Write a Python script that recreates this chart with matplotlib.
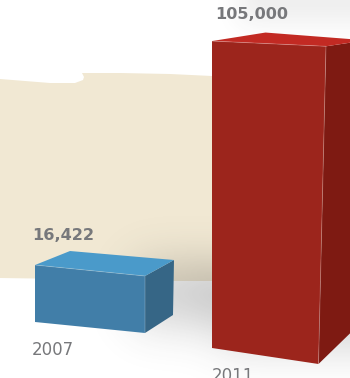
import numpy as np
import matplotlib
matplotlib.use("Agg")
import matplotlib.pyplot as plt
from matplotlib.patches import Polygon
from matplotlib.path import Path

years = ["2007", "2011"]
values = [16422, 105000]
value_labels = ["16,422", "105,000"]

# colours per box: front, top, side
front_colors = ["#417ea8", "#9c251c"]
top_colors = ["#4a9aca", "#c22a23"]
side_colors = ["#366686", "#7e1a12"]
TEXT = "#77787b"
BEIGE = "#f1e8d3"

# box geometry in pixels
base_left = [(35, 322), (212, 348)]
base_right = [(145, 333), (318.5, 364)]
top_right_x = [145, 326]
depth_top = [(35, -14), (53.5, -8.5)]
depth_right = [(29, -16), (40, -6)]
side_base = [(28, -18), (36, -35)]
flare = [1.0, 1.035]
value_anchor = [(32, 239.5), (215, 19)]
year_anchor = [(32, 355), (212, 381)]

W, H = 350, 378


def front_height(v):
    # pseudo-3D scale: a small constant plus a share proportional to the value
    return 10.65 + v * 0.002822


fig = plt.figure(figsize=(W / 100, H / 100), dpi=100, facecolor="white")
ax = fig.add_axes([0, 0, 1, 1])
ax.set_xlim(0, W)
ax.set_ylim(H, 0)
ax.axis("off")

# painted beige band behind the boxes
band_top = [(0, 79), (25, 81), (50, 83), (75, 83), (83, 80), (84, 77), (82, 73),
            (120, 73), (170, 74), (212, 76), (350, 78)]
band_bottom = [(350, 281), (170, 281), (35, 278.5), (0, 278)]
ax.add_patch(Polygon(band_top + band_bottom, closed=True, fc=BEIGE, ec="none", zorder=1))

# soft floor shadow, built from blurred regions
yy, xx = np.mgrid[0:H, 0:W]
grid = np.column_stack([xx.ravel() + 0.5, yy.ravel() + 0.5])


def blurred(poly, sigma):
    mask = Path(poly).contains_points(grid).reshape(H, W).astype(float)
    r = int(3 * sigma)
    k = np.exp(-0.5 * (np.arange(-r, r + 1) / sigma) ** 2)
    k /= k.sum()
    pad = np.pad(mask, r, mode="edge")
    pad = np.apply_along_axis(lambda m: np.convolve(m, k, mode="same"), 0, pad)
    pad = np.apply_along_axis(lambda m: np.convolve(m, k, mode="same"), 1, pad)
    return pad[r:-r, r:-r]


shade = 0.24 * blurred([(135, 262), (230, 262), (230, 325), (135, 325)], 22)
shade += 0.20 * blurred([(210, 270), (370, 270), (370, 350), (225, 350)], 22)
shade += 0.09 * blurred([(240, -30), (350, -30), (350, 22), (240, 22)], 13)
shade = np.clip(shade, 0, 0.3)
rgba = np.zeros((H, W, 4))
rgba[..., :3] = 0.25
rgba[..., 3] = shade
ax.imshow(rgba, extent=(0, W, H, 0), zorder=2, interpolation="bilinear", aspect="auto")
ax.set_xlim(0, W)
ax.set_ylim(H, 0)

for i, v in enumerate(values):
    h = front_height(v)
    bl = np.array(base_left[i], float)
    br = np.array(base_right[i], float)
    tl = bl - (0, h)
    tr = np.array([top_right_x[i], br[1] - h * flare[i]])
    back = tl + depth_top[i]
    far_top = tr + depth_right[i]
    far_base = br + side_base[i]
    ax.add_patch(Polygon([tr, far_top, far_base, br], fc=side_colors[i], ec="none", zorder=3))
    ax.add_patch(Polygon([tl, tr, br, bl], fc=front_colors[i], ec="none", zorder=4))
    ax.add_patch(Polygon([tl, back, far_top, tr], fc=top_colors[i], ec="none", zorder=5))
    # pale bevel along the front edges
    ax.plot([tl[0], tr[0], br[0]], [tl[1], tr[1], br[1]], color="white", alpha=0.25, lw=0.6, zorder=6)
    ax.text(*value_anchor[i], value_labels[i], color=TEXT, fontsize=11.6, fontweight="bold",
            family="DejaVu Sans", ha="left", va="baseline", zorder=7)
    ax.text(*year_anchor[i], years[i], color=TEXT, fontsize=12, family="DejaVu Sans",
            ha="left", va="baseline", zorder=7)

fig.savefig("out.png", dpi=100)
